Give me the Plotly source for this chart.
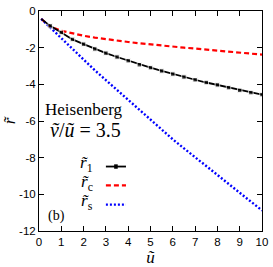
import plotly.graph_objects as go

u = [0.1, 0.5, 1.0, 1.5, 2.0, 2.5, 3.0, 3.5, 4.0, 4.5, 5.0, 5.5, 6.0, 6.5, 7.0, 7.5, 8.0, 8.5, 9.0, 9.5, 10.0]
r1 = [-0.43, -0.81, -1.17, -1.55, -1.81, -2.07, -2.30, -2.51, -2.71, -2.93, -3.09, -3.27, -3.44, -3.60, -3.75, -3.90, -4.03, -4.18, -4.33, -4.45, -4.56]
rc = [-0.43, -0.85, -1.08, -1.23, -1.35, -1.45, -1.54, -1.62, -1.69, -1.76, -1.83, -1.89, -1.94, -2.00, -2.05, -2.10, -2.15, -2.20, -2.25, -2.31, -2.38]
rs = [-0.43, -0.90, -1.49, -2.08, -2.68, -3.23, -3.77, -4.31, -4.86, -5.40, -5.94, -6.49, -7.00, -7.49, -7.97, -8.46, -8.94, -9.43, -9.91, -10.40, -10.88]

xticks = [0, 1, 2, 3, 4, 5, 6, 7, 8, 9, 10]
yticks = [0, -2, -4, -6, -8, -10, -12]
yticklabels = ["0", "-2", "-4", "-6", "-8", "-10", "-12"]

RED_DASH = "5px,3px"
BLUE_DOT = "2px,2px"

fig = go.Figure()
fig.add_trace(go.Scatter(x=u, y=rc, mode="lines", line=dict(color="#ff0000", width=2.2, dash=RED_DASH)))
fig.add_trace(go.Scatter(x=u, y=rs, mode="lines", line=dict(color="#0000ff", width=2.4, dash=BLUE_DOT)))
fig.add_trace(go.Scatter(x=u, y=r1, mode="lines+markers", line=dict(color="black", width=1.8),
                         marker=dict(symbol="square", size=[0] + [4.5] * (len(u) - 1), color="black")))

serif = "Liberation Serif, Times New Roman, serif"
sans = "Liberation Sans, Arial, Helvetica, sans-serif"

ann = [
    dict(x=0.017, y=0.553, xref="paper", yref="paper", text="Heisenberg", showarrow=False,
         xanchor="left", yanchor="middle", font=dict(family=serif, size=17, color="black")),
    dict(x=0.04, y=0.46, xref="paper", yref="paper", text="<i>ṽ</i>/<i>ũ</i> = 3.5", showarrow=False,
         xanchor="left", yanchor="middle", font=dict(family=serif, size=20, color="black")),
    dict(x=0.25, y=0.305, xref="paper", yref="paper", text="<i>r̃</i><sub>1</sub>", showarrow=False,
         xanchor="right", yanchor="middle", font=dict(family=serif, size=17, color="black")),
    dict(x=0.25, y=0.219, xref="paper", yref="paper", text="<i>r̃</i><sub>c</sub>", showarrow=False,
         xanchor="right", yanchor="middle", font=dict(family=serif, size=17, color="black")),
    dict(x=0.25, y=0.132, xref="paper", yref="paper", text="<i>r̃</i><sub>s</sub>", showarrow=False,
         xanchor="right", yanchor="middle", font=dict(family=serif, size=17, color="black")),
    dict(x=0.03, y=0.07, xref="paper", yref="paper", text="(b)", showarrow=False,
         xanchor="left", yanchor="middle", font=dict(family=serif, size=14, color="black")),
]

shapes = [
    dict(type="line", xref="paper", yref="paper", x0=0.30, x1=0.39, y0=0.293, y1=0.293,
         line=dict(color="black", width=1.8)),
    dict(type="rect", xref="paper", yref="paper", x0=0.337, x1=0.353, y0=0.283, y1=0.303,
         line=dict(color="black", width=0), fillcolor="black"),
    dict(type="line", xref="paper", yref="paper", x0=0.30, x1=0.39, y0=0.207, y1=0.207,
         line=dict(color="#ff0000", width=2.2, dash=RED_DASH)),
    dict(type="line", xref="paper", yref="paper", x0=0.30, x1=0.39, y0=0.120, y1=0.120,
         line=dict(color="#0000ff", width=2.4, dash=BLUE_DOT)),
]

fig.update_layout(
    width=273, height=267,
    margin=dict(l=38, r=6, t=5, b=34),
    paper_bgcolor="white", plot_bgcolor="white",
    showlegend=False,
    annotations=ann, shapes=shapes,
    font=dict(family=sans, size=11, color="black"),
)
fig.update_xaxes(range=[0, 10], tickvals=xticks, ticks="inside", ticklen=5, tickcolor="black",
                 showline=True, linecolor="black", linewidth=1, mirror="ticks", showgrid=False, zeroline=False,
                 tickfont=dict(family=sans, size=11.5), ticklabeloverflow="allow",
                 title=dict(text="<i>ũ</i>", font=dict(family=serif, size=17), standoff=2))
fig.update_yaxes(range=[-12, 0], tickvals=yticks, ticktext=yticklabels, ticks="inside", ticklen=5, tickcolor="black",
                 showline=True, linecolor="black", linewidth=1, mirror="ticks", showgrid=False, zeroline=False,
                 tickfont=dict(family=sans, size=11.5), ticklabeloverflow="allow",
                 title=dict(text="<i>r̃</i>", font=dict(family=serif, size=17), standoff=2))

fig.write_html("out.html", config={"displayModeBar": False},
               post_script="document.body.style.margin='0';document.body.style.overflow='hidden';")
